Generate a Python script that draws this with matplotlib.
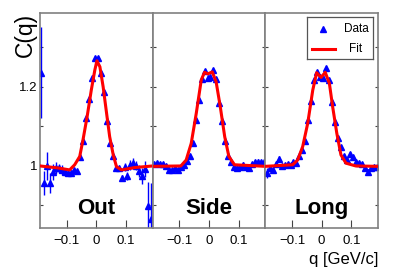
import matplotlib
matplotlib.use('Agg')
import matplotlib.pyplot as plt
import numpy as np

plt.rcParams['font.family'] = ['Liberation Sans', 'DejaVu Sans']

# bin centres, same for all three projections
q_bins = np.round(np.arange(-0.185, 0.19, 0.01), 3)

c_out = [1.236, 0.956, 1.000, 0.956, 0.985, 0.994, 0.994, 0.990, 0.985, 0.983,
         0.983, 0.990, 0.986, 1.022, 1.062, 1.122, 1.170, 1.222, 1.273,
         1.273, 1.236, 1.187, 1.115, 1.059, 1.024, 0.996, 0.994, 0.969, 0.998,
         0.974, 1.002, 1.007, 1.001, 0.988, 0.975, 0.993, 0.899, 0.866]
e_out = [0.115, 0.03, 0.035, 0.025, 0.02, 0.015, 0.012, 0.012, 0.01, 0.008,
         0.006, 0.005, 0.005, 0.005, 0.005, 0.005, 0.005, 0.005, 0.005,
         0.005, 0.005, 0.005, 0.005, 0.005, 0.005, 0.005, 0.005, 0.008, 0.01,
         0.01, 0.012, 0.012, 0.012, 0.015, 0.02, 0.02, 0.06, 0.09]

c_side = [1.005, 1.007, 1.004, 1.004, 1.000, 0.991, 0.990, 0.994, 0.990, 0.998,
          1.003, 1.013, 1.024, 1.057, 1.116, 1.167, 1.219, 1.239, 1.222,
          1.225, 1.243, 1.219, 1.160, 1.114, 1.062, 1.024, 1.011, 0.997, 0.996,
          0.998, 1.003, 0.998, 0.996, 1.005, 1.010, 1.011, 1.010, 1.011]
e_side = [0.006] * 38

c_long = [0.982, 0.995, 0.990, 1.004, 1.017, 1.000, 1.003, 1.005, 1.003, 1.010,
          1.008, 1.024, 1.040, 1.063, 1.117, 1.165, 1.218, 1.237, 1.225,
          1.222, 1.247, 1.218, 1.162, 1.110, 1.070, 1.047, 1.024, 1.015, 1.030,
          1.022, 1.010, 1.008, 1.006, 0.995, 0.985, 0.995, 0.997, 0.998]
e_long = [0.012, 0.008, 0.008, 0.007, 0.007, 0.006] + [0.005] * 32

# fit curves
fq_out = [-0.19, -0.13, -0.09, -0.073, -0.056, -0.045, -0.031, -0.017, -0.005,
          0.002, 0.012, 0.023, 0.036, 0.045, 0.057, 0.068, 0.085, 0.13, 0.19]
fc_out = [1.0, 0.995, 0.990, 1.003, 1.024, 1.066, 1.125, 1.192, 1.243,
          1.266, 1.251, 1.200, 1.125, 1.074, 1.028, 0.998, 0.990, 0.996, 1.0]

fq_side = [-0.19, -0.095, -0.077, -0.060, -0.043, -0.026, -0.015, -0.004, 0.011,
           0.024, 0.038, 0.053, 0.067, 0.086, 0.19]
fc_side = [0.999, 1.0, 1.015, 1.057, 1.133, 1.218, 1.237, 1.233, 1.238,
           1.213, 1.150, 1.074, 1.024, 1.003, 0.999]

fq_long = [-0.19, -0.098, -0.081, -0.064, -0.047, -0.030, -0.017, -0.002, 0.012,
           0.026, 0.037, 0.051, 0.065, 0.082, 0.115, 0.19]
fc_long = [0.999, 1.003, 1.015, 1.049, 1.108, 1.192, 1.236, 1.224, 1.237,
           1.209, 1.150, 1.083, 1.028, 1.007, 1.0, 0.999]

names = ['Out', 'Side', 'Long']
data = [(c_out, e_out, fq_out, fc_out),
        (c_side, e_side, fq_side, fc_side),
        (c_long, e_long, fq_long, fc_long)]

fig, axes = plt.subplots(1, 3, figsize=(3.99, 2.69), dpi=100, sharey=True)
fig.subplots_adjust(left=40/399, right=378/399, bottom=41/269, top=256/269, wspace=0)

for i, ax in enumerate(axes):
    c, e, fq, fc = data[i]
    ax.errorbar(q_bins, c, yerr=e, fmt='^', color='blue', ms=5,
                elinewidth=1.0, capsize=0, zorder=2)
    ax.plot(fq, fc, color='red', lw=2.2, zorder=3)
    ax.set_xlim(-0.19, 0.19)
    ax.set_ylim(0.843, 1.387)
    ax.set_xticks([-0.1, 0, 0.1])
    ax.set_xticklabels(['\u22120.1', '0', '0.1'], fontsize=9.5)
    ax.set_yticks([0.9, 1.0, 1.1, 1.2, 1.3])
    ax.tick_params(axis='x', direction='in', length=5.5, width=0.8, pad=5, color='#444444')
    ax.tick_params(axis='y', direction='in', length=2.5, width=0.8, pad=2,
                   left=True, right=True, color='#444444', labelsize=9.5)
    for s in ax.spines.values():
        s.set_color('#808080')
        s.set_linewidth(1.2)
    ax.text(0, 0.878, names[i], ha='center', va='baseline',
            fontsize=16, fontweight='bold')

axes[0].set_yticklabels(['', '1', '', '1.2', ''])

fig.text(25/399, 1 - 13/269, 'C(q)', rotation=90, ha='center', va='top', fontsize=16.5)
fig.text(378/399, 1 - 252/269, 'q [GeV/c]', ha='right', va='top', fontsize=12)

# legend box
lax = fig.add_axes([306.7/399, 1 - 59.3/269, 66.6/399, 42/269])
lax.set_xlim(0, 1)
lax.set_ylim(0, 1)
lax.set_xticks([])
lax.set_yticks([])
for s in lax.spines.values():
    s.set_color('#555555')
    s.set_linewidth(0.9)
lax.plot([0.25], [0.72], '^', color='blue', ms=5)
lax.plot([0.075, 0.42], [0.24, 0.24], color='red', lw=2.2)
lax.text(0.74, 0.72, 'Data', ha='center', va='center', fontsize=8.5)
lax.text(0.74, 0.24, 'Fit', ha='center', va='center', fontsize=8.5)

fig.savefig('out.png', dpi=100)
